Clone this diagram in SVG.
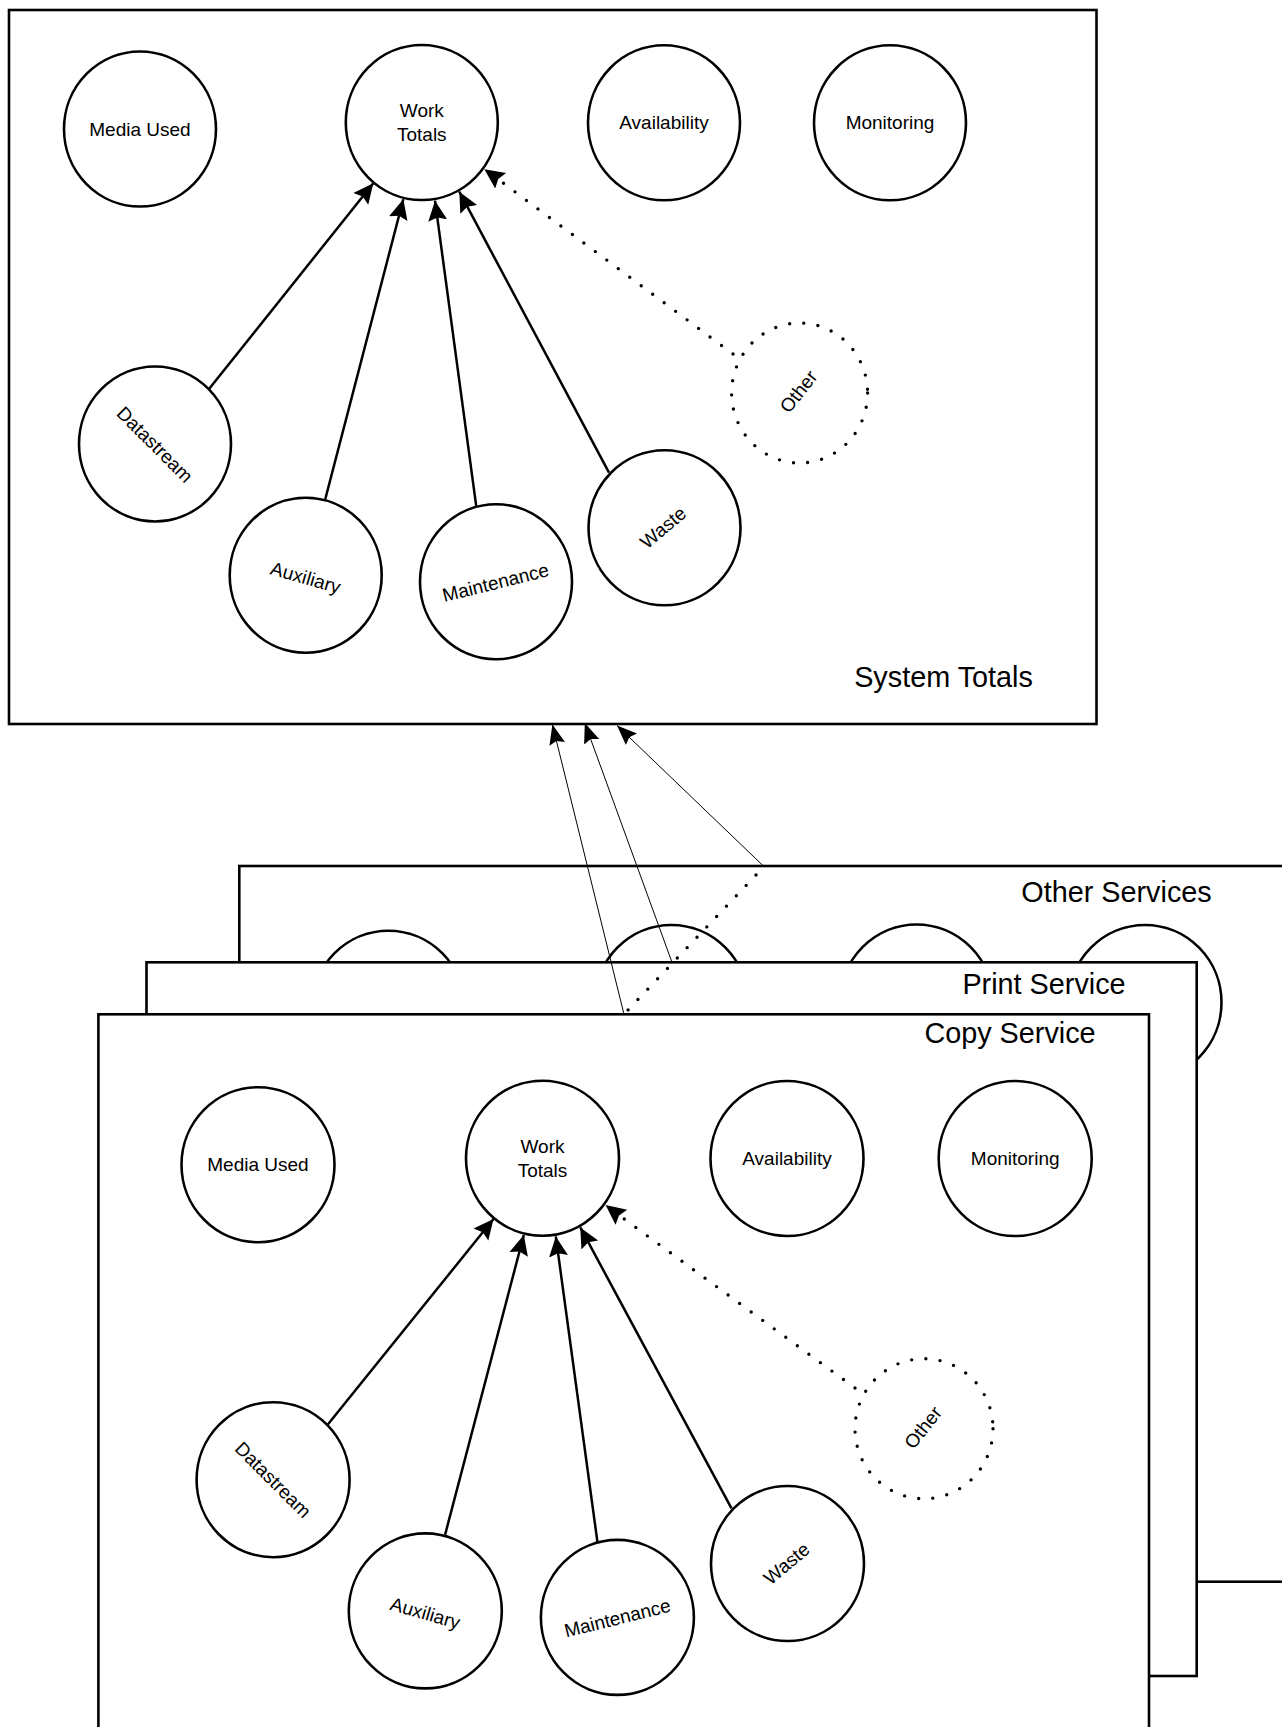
<svg xmlns="http://www.w3.org/2000/svg" width="1282" height="1727" viewBox="0 0 1282 1727">
<style>
.box{fill:#fff;stroke:#000;stroke-width:2.6}
.nd{fill:#fff;stroke:#000;stroke-width:2.6}
.dot{fill:none;stroke:#000;stroke-width:3.4;stroke-linecap:round;stroke-dasharray:0 14.3}
.t{font-family:"Liberation Sans",Arial,sans-serif;font-size:19px;fill:#000;text-anchor:middle}
.big{font-family:"Liberation Sans",Arial,sans-serif;font-size:28.8px;fill:#000;text-anchor:middle}
.ar{fill:none;stroke:#000;stroke-width:2.5}
.thin{fill:none;stroke:#000;stroke-width:1}
</style>
<defs>
<marker id="ah" markerUnits="userSpaceOnUse" markerWidth="22" markerHeight="22" refX="20" refY="10" orient="auto">
<path d="M0,0.5 L20,10 L0,19.5 L3,10 Z" fill="#000"/>
</marker>
<marker id="ahs" markerUnits="userSpaceOnUse" markerWidth="22" markerHeight="22" refX="20" refY="10" orient="auto">
<path d="M0,2 L20,10 L0,18 L3,10 Z" fill="#000"/>
</marker>
</defs>
<rect width="1282" height="1727" fill="#fff"/>

<!-- Other Services layer -->
<g id="other-services">
<rect class="box" x="239.3" y="866" width="1100" height="715.7"/>
<ellipse class="nd" cx="388.4" cy="1008.2" rx="76.5" ry="77.5"/>
<ellipse class="nd" cx="671.4" cy="1002.5" rx="76.5" ry="77.5"/>
<ellipse class="nd" cx="916.6" cy="1002" rx="76.5" ry="77.5"/>
<ellipse class="nd" cx="1145" cy="1002.5" rx="76.5" ry="77.5"/>
<text class="big" x="1116.5" y="901.5">Other Services</text>
</g>

<!-- Print Service layer -->
<g id="print-service">
<rect class="box" x="146.5" y="962.3" width="1050.2" height="713.7"/>
<text class="big" x="1044" y="993.5">Print Service</text>
</g>

<!-- Copy Service layer -->
<g id="copy-service">
<rect class="box" x="98.4" y="1014.3" width="1050.6" height="800"/>
<text class="big" x="1010" y="1043.3">Copy Service</text>
<g id="copy-media-used"><ellipse class="nd" cx="258" cy="1164.7" rx="76.5" ry="77.5"/><text class="t" x="258" y="1171.4">Media Used</text></g>
<g id="copy-work-totals"><ellipse class="nd" cx="542.5" cy="1158.2" rx="76.5" ry="77.5"/><text class="t" x="542.5" y="1152.5">Work</text><text class="t" x="542.5" y="1176.5">Totals</text></g>
<g id="copy-availability"><ellipse class="nd" cx="787" cy="1158.5" rx="76.5" ry="77.5"/><text class="t" x="787" y="1165">Availability</text></g>
<g id="copy-monitoring"><ellipse class="nd" cx="1015.2" cy="1158.5" rx="76.5" ry="77.5"/><text class="t" x="1015.2" y="1165">Monitoring</text></g>
<g id="copy-datastream"><ellipse class="nd" cx="273.1" cy="1479.7" rx="76.5" ry="77.5"/><text class="t" transform="translate(273.1,1479.7) rotate(45)" dy="0.35em">Datastream</text></g>
<g id="copy-auxiliary"><ellipse class="nd" cx="425.3" cy="1610.9" rx="76.5" ry="77.5"/><text class="t" transform="translate(425.3,1613) rotate(16)" dy="0.35em">Auxiliary</text></g>
<g id="copy-maintenance"><ellipse class="nd" cx="617.4" cy="1617.4" rx="76.5" ry="77.5"/><text class="t" transform="translate(617.4,1618) rotate(-14)" dy="0.35em">Maintenance</text></g>
<g id="copy-waste"><ellipse class="nd" cx="787.5" cy="1563.5" rx="76.5" ry="77.5"/><text class="t" transform="translate(786.5,1563.5) rotate(-40)" dy="0.35em">Waste</text></g>
<g id="copy-other"><ellipse class="dot" cx="924" cy="1428.7" rx="69" ry="70"/><text class="t" transform="translate(923,1427.5) rotate(-52)" dy="0.35em">Other</text></g>
<g id="copy-connectors">
<line class="ar" x1="327.6" y1="1424.7" x2="493.5" y2="1219" marker-end="url(#ah)"/>
<line class="ar" x1="445.1" y1="1534.7" x2="523.8" y2="1235" marker-end="url(#ah)"/>
<line class="ar" x1="597.5" y1="1542.4" x2="555.8" y2="1236.4" marker-end="url(#ah)"/>
<line class="ar" x1="731.5" y1="1508.4" x2="580.3" y2="1227.4" marker-end="url(#ah)"/>
<line class="dot" x1="855" y1="1388" x2="612" y2="1210"/>
<line x1="612" y1="1210" x2="605.6" y2="1205" stroke="none" marker-end="url(#ah)"/>
</g>
</g>

<!-- System Totals -->
<g id="system-totals">
<rect class="box" x="9" y="10" width="1087.5" height="714"/>
<text class="big" x="943.5" y="687.3">System Totals</text>
<g id="media-used"><ellipse class="nd" cx="140" cy="129" rx="76" ry="77.5"/><text class="t" x="140" y="135.5">Media Used</text></g>
<g id="work-totals"><ellipse class="nd" cx="421.8" cy="122.5" rx="76" ry="77.5"/><text class="t" x="421.8" y="116.8">Work</text><text class="t" x="421.8" y="140.8">Totals</text></g>
<g id="availability"><ellipse class="nd" cx="664" cy="122.8" rx="76" ry="77.5"/><text class="t" x="664" y="129.3">Availability</text></g>
<g id="monitoring"><ellipse class="nd" cx="890" cy="122.8" rx="76" ry="77.5"/><text class="t" x="890" y="129.3">Monitoring</text></g>
<g id="datastream"><ellipse class="nd" cx="155" cy="444" rx="76" ry="77.5"/><text class="t" transform="translate(155,444.5) rotate(45)" dy="0.35em">Datastream</text></g>
<g id="auxiliary"><ellipse class="nd" cx="305.7" cy="575.2" rx="76" ry="77.5"/><text class="t" transform="translate(305.7,577.5) rotate(16)" dy="0.35em">Auxiliary</text></g>
<g id="maintenance"><ellipse class="nd" cx="496" cy="581.7" rx="76" ry="77.5"/><text class="t" transform="translate(495.5,582.5) rotate(-14)" dy="0.35em">Maintenance</text></g>
<g id="waste"><ellipse class="nd" cx="664.5" cy="527.8" rx="76" ry="77.5"/><text class="t" transform="translate(663,527.5) rotate(-40)" dy="0.35em">Waste</text></g>
<g id="other"><ellipse class="dot" cx="799.6" cy="393" rx="68" ry="70"/><text class="t" transform="translate(798.5,391.5) rotate(-52)" dy="0.35em">Other</text></g>
<g id="connectors">
<line class="ar" x1="209" y1="389" x2="373.3" y2="183.3" marker-end="url(#ah)"/>
<line class="ar" x1="325.3" y1="499" x2="403.3" y2="199.3" marker-end="url(#ah)"/>
<line class="ar" x1="476.3" y1="506.7" x2="435" y2="200.7" marker-end="url(#ah)"/>
<line class="ar" x1="609" y1="472.7" x2="459.3" y2="191.7" marker-end="url(#ah)"/>
<line class="dot" x1="733" y1="354" x2="491" y2="174"/>
<line x1="491" y1="174" x2="484.3" y2="169.3" stroke="none" marker-end="url(#ah)"/>
</g>
</g>

<!-- Connectors between service layers and System Totals -->
<g id="service-connectors">
<line class="thin" x1="624" y1="1014.3" x2="552.4" y2="724.5" marker-end="url(#ahs)"/>
<line class="thin" x1="672" y1="962.3" x2="584.8" y2="723" marker-end="url(#ahs)"/>
<line class="thin" x1="763.4" y1="866" x2="617" y2="725.5" marker-end="url(#ahs)"/>
<line class="dot" x1="756" y1="875" x2="628" y2="1010"/>
</g>
</svg>
